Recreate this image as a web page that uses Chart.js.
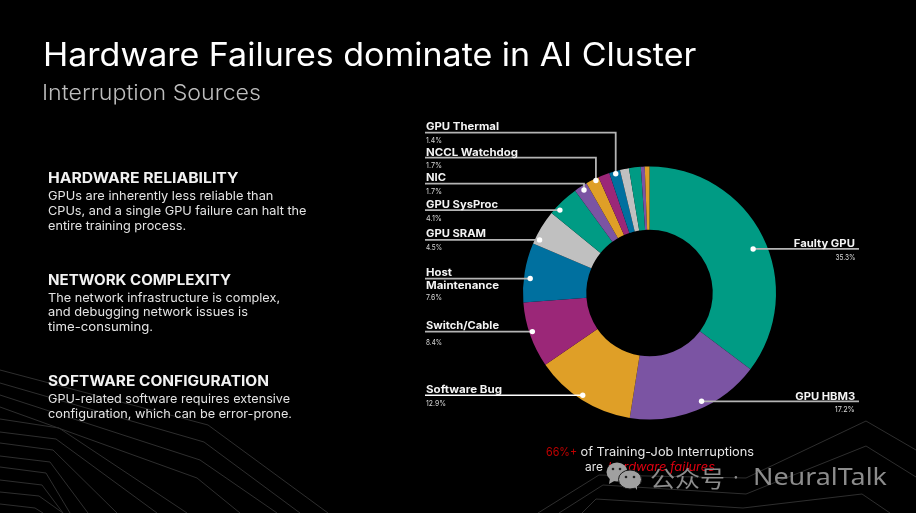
<!DOCTYPE html>
<html><head><meta charset="utf-8">
<script src="https://cdn.jsdelivr.net/npm/chart.js@4/dist/chart.umd.min.js"></script>
<style>
html,body{margin:0;padding:0;background:#000;width:916px;height:513px;overflow:hidden}
#bg,#c,#ov,#wm{position:absolute;left:0;top:0;width:916px;height:513px}
#ov span,#wm span{position:absolute;white-space:pre;line-height:1}
</style></head><body>
<svg id="bg" viewBox="0 0 916 513" fill="none" stroke="#2e2e2e" stroke-width="1">
<polyline points="0,370 208,425 328,513"/><polyline points="0,383 204,442 300,513"/>
<polyline points="0,395 200,460 277,513"/><polyline points="0,407 197,478 240,513"/>
<polyline points="0,419 59,428 187,513"/><polyline points="0,432 56,439 157,513"/>
<polyline points="0,443 53,450 117,513"/><polyline points="0,456 50,462 88,513"/>
<polyline points="0,467 46,473 70,513"/><polyline points="0,480 42,485 63,513"/>
<polyline points="0,492 39,496 63,513"/><polyline points="0,504 35,508 43,513"/>
<polyline points="538,513 599,475 746,478 866,421 916,450"/>
<polyline points="559,513 603,485 746,494 866,446 916,477"/>
<polyline points="582,513 596,499 743,508 862,494 890,513"/>
</svg>
<canvas id="c" width="916" height="513"></canvas>
<div id="ov"></div>
<svg id="wm2" style="position:absolute;left:0;top:0" width="916" height="513" viewBox="0 0 916 513">
<g fill="#a0a0a0">
<ellipse cx="617" cy="472" rx="10.5" ry="9.5"/><path d="M610 478 L609 484 L616 480Z"/>
<ellipse cx="630" cy="479.5" rx="11.5" ry="9.5" stroke="#1a1a1a" stroke-width="1"/><path d="M634 486 L637 490 L637 484Z"/>
</g>
<g fill="#222"><circle cx="613" cy="469" r="1.3"/><circle cx="620" cy="469" r="1.3"/><circle cx="626" cy="477" r="1.3"/><circle cx="634" cy="477" r="1.3"/></g>
</svg>
<div id="wm"></div>
<script>
const categories = ["Faulty GPU","GPU HBM3","Software Bug","Switch/Cable","Host Maintenance","GPU SRAM","GPU SysProc","NIC","NCCL Watchdog","(unlabeled a)","GPU Thermal","(unlabeled b)","(unlabeled c)","(unlabeled d)","(unlabeled e)"];
const shares = [35.3,17.2,12.9,8.4,7.6,4.5,4.1,1.7,1.7,1.45,1.4,1.15,1.5,0.5,0.6];
const colors = ["#009B84","#7B54A3","#DF9F27","#9B2778","#00709F","#C0C0C0","#009B84","#7B54A3","#DF9F27","#9B2778","#00709F","#C0C0C0","#009B84","#7B54A3","#DF9F27"];
const heading = "Hardware Failures dominate in AI Cluster";
const subheading = "Interruption Sources";

// callout layout: slice index, name lines [text,y,width], percent y, elbow y, position in slice
const callouts = [
 {i:0, right:855, name:[["Faulty GPU",243,61]], py:257, end:859, t:.527,q:.78},
 {i:1, right:855, name:[["GPU HBM3",396,60]], py:409, end:859, t:.44,q:.90},
 {i:2, name:[["Software Bug",389,76]], py:403, t:.52,q:.93, white:true},
 {i:3, name:[["Switch/Cable",325,73]], py:342, t:.54,q:.95},
 {i:4, name:[["Host",272,26],["Maintenance",285,73]], py:297, t:.41,q:.90},
 {i:5, name:[["GPU SRAM",233,60]], py:247, t:.17,q:.93},
 {i:6, name:[["GPU SysProc",204,72]], py:218, t:.24,q:.93},
 {i:7, name:[["NIC",177,20]], py:191, t:.58,q:.93, elbow:183.7},
 {i:8, name:[["NCCL Watchdog",152,92]], py:165, t:.72,q:.97, elbow:157.7},
 {i:10,name:[["GPU Thermal",126,73]], py:140, t:.54,q:.96, elbow:132.7}
];
const FONT = 'Inter, "Open Sans", sans-serif';
const ov = document.getElementById('ov');
const cv = document.createElement('canvas').getContext('2d');
function put(parent,text,x,y,width,size,weight,color,opts){
  opts=opts||{};
  const s=document.createElement('span');
  s.textContent=text;
  const style=opts.italic?'italic ':'';
  const f=style+weight+' '+size+'px '+(opts.font||FONT);
  s.style.font=f;
  s.style.color=color;
  cv.font=f;
  const m=cv.measureText(text).width;
  const k=width?(width/m):1;
  s.style.transform='translateY(-50%) scaleX('+k.toFixed(3)+')';
  s.style.transformOrigin=opts.right?'right center':'left center';
  if(opts.right){s.style.right=(916-x)+'px';} else s.style.left=x+'px';
  s.style.top=y+'px';
  parent.appendChild(s);
  return s;
}
put(ov,heading,42.5,54,653,32,400,'#ffffff');
put(ov,subheading,42,91.5,219,22,300,'#bdbdbd');
const HW='#f2f2f2', BD='#e4e4e4';
put(ov,"HARDWARE RELIABILITY",47.5,176.5,190.5,14,700,HW);
put(ov,"GPUs are inherently less reliable than",47.5,194.5,225.5,12,400,BD);
put(ov,"CPUs, and a single GPU failure can halt the",47.5,209.5,258.5,12,400,BD);
put(ov,"entire training process.",47.5,224.5,138,12,400,BD);
put(ov,"NETWORK COMPLEXITY",47.5,278.5,183,14,700,HW);
put(ov,"The network infrastructure is complex,",47.5,296.5,232,12,400,BD);
put(ov,"and debugging network issues is",47.5,311,200,12,400,BD);
put(ov,"time-consuming.",47.5,325.5,105,12,400,BD);
put(ov,"SOFTWARE CONFIGURATION",47.5,379.5,221,14,700,HW);
put(ov,"GPU-related software requires extensive",47.5,398,242,12,400,BD);
put(ov,"configuration, which can be error-prone.",47.5,412.5,244,12,400,BD);

callouts.forEach(c=>{
  c.name.forEach(n=>{
    if(c.right) put(ov,n[0],c.right,n[1],n[2],10.5,700,'#f4f4f4',{right:true});
    else put(ov,n[0],425.5,n[1],n[2],10.5,700,'#f4f4f4');
  });
  const p=shares[c.i].toFixed(1)+'%';
  if(c.right) put(ov,p,c.right,c.py,20,8,400,'#d8d8d8',{right:true});
  else put(ov,p,425.5,c.py,p.length>4?20:16,8,400,'#d8d8d8');
});
put(ov,"66%+",546,451,31,12,400,'#c00000');
put(ov," of Training-Job Interruptions",577,451,177,12,400,'#e8e8e8');
put(ov,"are",585,466,18,12,400,'#e8e8e8');
put(ov,"hardware failures",608,466,107,12,400,'#e00010',{italic:true});
const wm=document.getElementById('wm');
put(wm,"公众号",650,477,75,23,400,'#8c8c8c',{font:'"Noto Sans CJK SC"'});
put(wm,"·",733,477,0,20,400,'#8c8c8c');
put(wm,"NeuralTalk",753,476,134,23,400,'#8c8c8c',{font:'"Noto Sans",sans-serif'});

const leaders = {
  id:'leaders',
  afterDatasetsDraw(chart){
    const g=chart.ctx, arcs=chart.getDatasetMeta(0).data;
    g.save();
    callouts.forEach(c=>{
      const el=arcs[c.i];
      const a=el.startAngle+c.t*(el.endAngle-el.startAngle);
      const r=el.innerRadius+c.q*(el.outerRadius-el.innerRadius);
      const x=el.x+r*Math.cos(a), y=el.y+r*Math.sin(a);
      g.beginPath();
      g.lineWidth=c.white?1.4:1.8;
      g.strokeStyle=c.white?'#ffffff':'#b4b4b4';
      if(c.elbow){ g.moveTo(425,c.elbow); g.lineTo(x,c.elbow); g.lineTo(x,y); }
      else if(c.end){ g.moveTo(x,y); g.lineTo(c.end,y); }
      else { g.moveTo(425,y); g.lineTo(x,y); }
      g.stroke();
      g.beginPath(); g.fillStyle='#fff'; g.arc(x,y,2.7,0,Math.PI*2); g.fill();
    });
    g.restore();
  }
};
new Chart(document.getElementById('c'),{
  type:'doughnut',
  data:{labels:categories,datasets:[{data:shares,backgroundColor:colors,borderWidth:0}]},
  options:{
    responsive:false,animation:false,devicePixelRatio:1,cutout:'50%',
    layout:{padding:{left:523,right:140,top:166.5,bottom:93.5}},
    plugins:{legend:{display:false},tooltip:{enabled:false},title:{display:false}}
  },
  plugins:[leaders]
});
</script>
</body></html>
